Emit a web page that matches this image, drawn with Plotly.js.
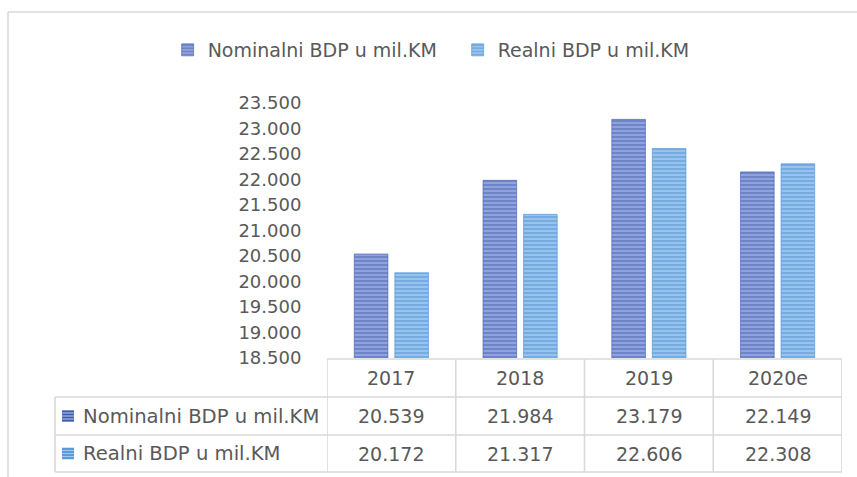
<!DOCTYPE html>
<html><head><meta charset="utf-8">
<script src="https://cdn.plot.ly/plotly-3.0.1.min.js"></script>
<style>html,body{margin:0;padding:0;background:#fff;} #chart{width:857px;height:477px;}</style>
</head><body><div id="chart"></div>
<script>
// ---- data ----
const categories = ['2017', '2018', '2019', '2020e'];
const nominalni = [20539, 21984, 23179, 22149];
const realni = [20172, 21317, 22606, 22308];
const seriesNames = ['Nominalni BDP u mil.KM', 'Realni BDP u mil.KM'];
const yTickValues = [18500, 19000, 19500, 20000, 20500, 21000, 21500, 22000, 22500, 23000, 23500];

// ---- geometry helpers ----
const W = 857, H = 477;
const px = x => x / W;
const py = y => 1 - y / H;
const plotL = 327, plotR = 842, plotT = 103, plotB = 358;
const rowEdges = [359, 397, 435, 472];
const tableLeft = 55;
const gridColor = '#d9d9d9';
const textColor = '#595959';
const FONT = 'DejaVu Sans, sans-serif';

const styles = [
  {fg: '#3d5cb0', bg: '#9cace0'},
  {fg: '#4a8fd2', bg: '#a2c9ef'}
];

const fmt = v => {
  const s = String(v);
  return s.slice(0, s.length - 3) + '.' + s.slice(-3);
};

const traces = [nominalni, realni].map((vals, i) => ({
  type: 'bar',
  x: categories,
  y: vals,
  name: seriesNames[i],
  marker: {
    color: styles[i].fg,
    line: {color: styles[i].fg, width: 0.6},
    pattern: {shape: '-', fgcolor: styles[i].fg, bgcolor: styles[i].bg, size: 4, solidity: 0.62, fillmode: 'overlay'}
  },
  hoverinfo: 'skip'
}));

const shapes = [];
const line = (x0, y0, x1, y1) => shapes.push({
  type: 'line', xref: 'paper', yref: 'paper', x0, y0, x1, y1,
  line: {color: gridColor, width: 1.6}
});
// outer chart border (left and top visible)
line(px(8), py(H), px(8), py(12));
line(px(8), py(12), px(W), py(12));
// table horizontal lines
line(px(plotL), py(rowEdges[0]), px(plotR), py(rowEdges[0]));
for (let r = 1; r < rowEdges.length; r++) line(px(tableLeft), py(rowEdges[r]), px(plotR), py(rowEdges[r]));
// table vertical lines at category boundaries
for (let i = 0; i <= categories.length; i++) {
  shapes.push({type: 'line', xref: 'x', yref: 'paper', x0: i - 0.5, x1: i - 0.5,
    y0: py(rowEdges[0]), y1: py(rowEdges[3]), line: {color: gridColor, width: 1.6}});
}
line(px(tableLeft), py(rowEdges[1]), px(tableLeft), py(rowEdges[3]));

const annotations = [];
// header row
categories.forEach((c, i) => annotations.push({
  x: i, xref: 'x', y: py((rowEdges[0] + rowEdges[1]) / 2), yref: 'paper',
  text: c, showarrow: false, font: {family: FONT, size: 19, color: textColor}, xanchor: 'center', yanchor: 'middle'
}));
// data rows
[nominalni, realni].forEach((vals, r) => {
  const yc = (rowEdges[r + 1] + rowEdges[r + 2]) / 2;
  vals.forEach((v, i) => annotations.push({
    x: i, xref: 'x', y: py(yc), yref: 'paper',
    text: fmt(v), showarrow: false, font: {family: FONT, size: 19, color: textColor}, xanchor: 'center', yanchor: 'middle'
  }));
  annotations.push({
    x: px(81), xref: 'paper', y: py(yc), yref: 'paper', text: seriesNames[r], showarrow: false,
    font: {family: FONT, size: 19.6, color: textColor}, xanchor: 'left', yanchor: 'middle'
  });
  // legend key in table: striped square
  const kx0 = 62, kx1 = 74, ky0 = yc - 6, ky1 = yc + 6;
  shapes.push({type: 'rect', xref: 'paper', yref: 'paper', x0: px(kx0), x1: px(kx1), y0: py(ky1), y1: py(ky0),
    fillcolor: styles[r].bg, line: {width: 0}});
  for (let k = 0; k < 4; k++) {
    const yy = ky0 + 1.5 + k * 3;
    shapes.push({type: 'line', xref: 'paper', yref: 'paper', x0: px(kx0), x1: px(kx1), y0: py(yy), y1: py(yy),
      line: {color: styles[r].fg, width: 1.6}});
  }
});

const layout = {
  width: W, height: H,
  margin: {l: 0, r: 0, t: 0, b: 0},
  paper_bgcolor: '#ffffff', plot_bgcolor: '#ffffff',
  separators: ',.',
  font: {family: FONT, color: textColor},
  barmode: 'group', bargap: 0.37, bargroupgap: 0.17,
  showlegend: true,
  legend: {orientation: 'h', x: 0.534, xanchor: 'center', y: py(50), yanchor: 'middle', entrywidth: 245,
    font: {family: FONT, size: 19, color: textColor}, bgcolor: 'rgba(0,0,0,0)'},
  xaxis: {type: 'category', categoryorder: 'array', categoryarray: categories,
    range: [-0.5, categories.length - 0.5], autorange: false,
    domain: [px(plotL), px(plotR)], showticklabels: false, showgrid: false, zeroline: false,
    showline: false, ticks: '', fixedrange: true},
  yaxis: {domain: [py(plotB), py(plotT)], range: [18500, 23500], autorange: false, tickvals: yTickValues,
    ticktext: yTickValues.map(fmt), showgrid: false, zeroline: false, showline: false,
    ticks: 'outside', ticklen: 21, tickcolor: 'rgba(0,0,0,0)',
    tickfont: {family: FONT, size: 18, color: textColor}, fixedrange: true},
  shapes, annotations
};

Plotly.newPlot('chart', traces, layout, {displayModeBar: false, staticPlot: true});
</script>
</body></html>
